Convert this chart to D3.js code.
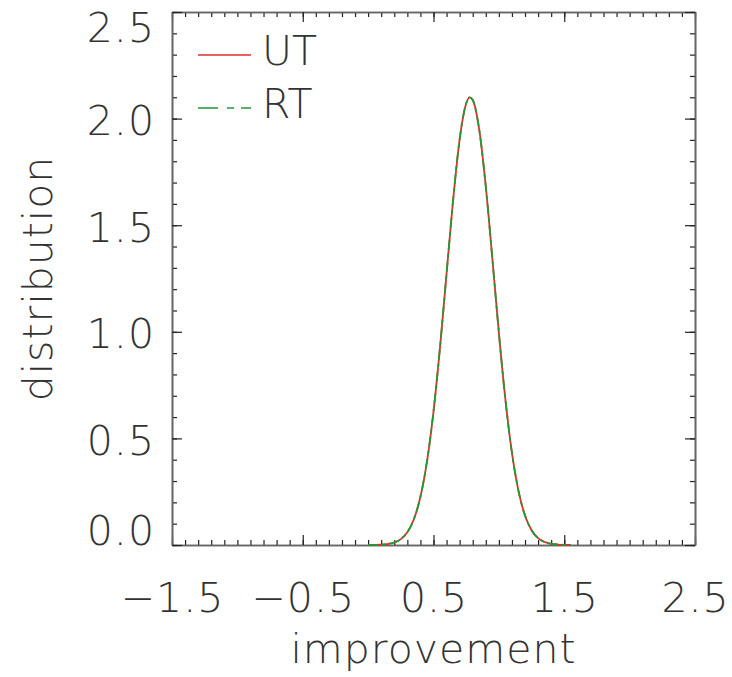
<!DOCTYPE html>
<html>
<head>
<meta charset="utf-8">
<script src="https://cdn.jsdelivr.net/npm/d3@7"></script>
<style>
  body { margin: 0; background: #fff; }
  text { font-family: "DejaVu Sans", Roboto, sans-serif; font-weight: 200; fill: #333; }
</style>
</head>
<body>
<script>
// curve
var improvement = [0.00, 0.05, 0.10, 0.15, 0.20, 0.25, 0.30, 0.35, 0.40, 0.45, 0.50, 0.55, 0.60, 0.65, 0.70, 0.75, 0.775,
                   0.80, 0.85, 0.90, 0.95, 1.00, 1.05, 1.10, 1.15, 1.20, 1.25, 1.30, 1.35, 1.40, 1.45, 1.50, 1.55];
var utDist = [0.0002, 0.0006, 0.0017, 0.0046, 0.0117, 0.0275, 0.060, 0.121, 0.226, 0.391, 0.626, 0.928, 1.274, 1.618, 1.903, 2.071, 2.100,
              2.087, 1.947, 1.681, 1.344, 0.995, 0.682, 0.432, 0.254, 0.138, 0.0695, 0.0323, 0.0139, 0.0056, 0.0021, 0.0007, 0.0002];
var rtDist = [0.0002, 0.0006, 0.0017, 0.0046, 0.0117, 0.0275, 0.060, 0.121, 0.226, 0.391, 0.626, 0.928, 1.274, 1.618, 1.903, 2.071, 2.100,
              2.087, 1.947, 1.681, 1.344, 0.995, 0.682, 0.432, 0.254, 0.138, 0.0695, 0.0323, 0.0139, 0.0056, 0.0021, 0.0007, 0.0002];

var seriesNames = ["UT", "RT"];
var xTicks = [-1.5, -0.5, 0.5, 1.5, 2.5];
var yTicks = [0.0, 0.5, 1.0, 1.5, 2.0, 2.5];

//Width and height
var w = 732;
var h = 677;
var pLeft = 172, pRight = 695, pTop = 12, pBottom = 545;

var x = d3.scaleLinear().domain([-1.5, 2.5]).range([pLeft, pRight]);
var y = d3.scaleLinear().domain([0, 2.5]).range([pBottom, pTop]);

var xMinor = d3.range(-15, 26).map(function(d) { return d / 10; });
var yMinor = d3.range(0, 26).map(function(d) { return d / 10; });
var fmt = d3.format(".1f");

var svg = d3.select("body")
      .append("svg")
      .attr("width", w)
      .attr("height", h);

// axes on all four sides, ticks pointing in
function styleAxis(g) {
  g.select(".domain").attr("stroke", "#666").attr("stroke-width", 1.6);
  g.selectAll(".tick line").attr("stroke", "#222").attr("stroke-width", 1.2);
  g.selectAll(".tick text")
   .attr("fill", "#333")
   .attr("font-size", "41px")
   .attr("letter-spacing", "1px")
   .attr("font-family", null);
}

svg.append("g").attr("transform", "translate(0," + pBottom + ")")
   .call(d3.axisBottom(x).tickValues(xMinor).tickSize(-5).tickSizeOuter(0).tickFormat(""))
   .call(styleAxis);
svg.append("g").attr("transform", "translate(0," + pBottom + ")")
   .call(d3.axisBottom(x).tickValues(xTicks).tickSize(-10).tickSizeOuter(0).tickPadding(38).tickFormat(fmt))
   .call(styleAxis);
svg.append("g").attr("transform", "translate(0," + pTop + ")")
   .call(d3.axisTop(x).tickValues(xMinor).tickSize(-5).tickSizeOuter(0).tickFormat(""))
   .call(styleAxis);
svg.append("g").attr("transform", "translate(0," + pTop + ")")
   .call(d3.axisTop(x).tickValues(xTicks).tickSize(-10).tickSizeOuter(0).tickFormat(""))
   .call(styleAxis);

svg.append("g").attr("transform", "translate(" + pLeft + ",0)")
   .call(d3.axisLeft(y).tickValues(yMinor).tickSize(-5).tickSizeOuter(0).tickFormat(""))
   .call(styleAxis);
var yAxisG = svg.append("g").attr("transform", "translate(" + pLeft + ",0)")
   .call(d3.axisLeft(y).tickValues(yTicks).tickSize(-10).tickSizeOuter(0).tickPadding(17).tickFormat(fmt))
   .call(styleAxis);
// end labels are kept inside the frame, the rest sit a little low
yAxisG.selectAll(".tick text")
   .attr("y", function(d) { return d === 0 ? -14 : (d === 2.5 ? 16 : 3); });
svg.append("g").attr("transform", "translate(" + pRight + ",0)")
   .call(d3.axisRight(y).tickValues(yMinor).tickSize(-5).tickSizeOuter(0).tickFormat(""))
   .call(styleAxis);
svg.append("g").attr("transform", "translate(" + pRight + ",0)")
   .call(d3.axisRight(y).tickValues(yTicks).tickSize(-10).tickSizeOuter(0).tickFormat(""))
   .call(styleAxis);

// titles
svg.append("text")
   .attr("x", (pLeft + pRight) / 2)
   .attr("y", 663)
   .attr("text-anchor", "middle")
   .attr("font-size", "41px")
   .attr("letter-spacing", "1px")
   .text("improvement");

svg.append("text")
   .attr("transform", "translate(52," + ((pTop + pBottom) / 2) + ") rotate(-90)")
   .attr("text-anchor", "middle")
   .attr("font-size", "41px")
   .attr("letter-spacing", "1px")
   .text("distribution");

// curves: red solid first, green dash-dot on top
var line = d3.line()
   .x(function(d) { return x(d[0]); })
   .y(function(d) { return y(d[1]); })
   .curve(d3.curveMonotoneX);

var colors = ["#e0302a", "#1f9a35"];
var dashes = [null, "10,4,4,4"];
var dists = [utDist, rtDist];

dists.forEach(function(dist, i) {
  svg.append("path")
     .datum(d3.zip(improvement, dist))
     .attr("fill", "none")
     .attr("stroke", colors[i])
     .attr("stroke-width", 1.8)
     .attr("stroke-dasharray", dashes[i])
     .attr("d", line);
});

// legend
var legend = svg.selectAll(".legend")
   .data(seriesNames)
   .enter()
   .append("g")
   .attr("transform", function(d, i) { return "translate(0," + (55 + i * 53) + ")"; });

legend.append("line")
   .attr("x1", 198).attr("x2", 251)
   .attr("y1", 0).attr("y2", 0)
   .attr("stroke", function(d, i) { return colors[i]; })
   .attr("stroke-width", 1.6)
   .attr("stroke-dasharray", function(d, i) { return i ? "20,9,7,7" : null; });

legend.append("text")
   .attr("x", 262)
   .attr("y", 10)
   .attr("font-size", "41px")
   .text(function(d) { return d; });
</script>
</body>
</html>
